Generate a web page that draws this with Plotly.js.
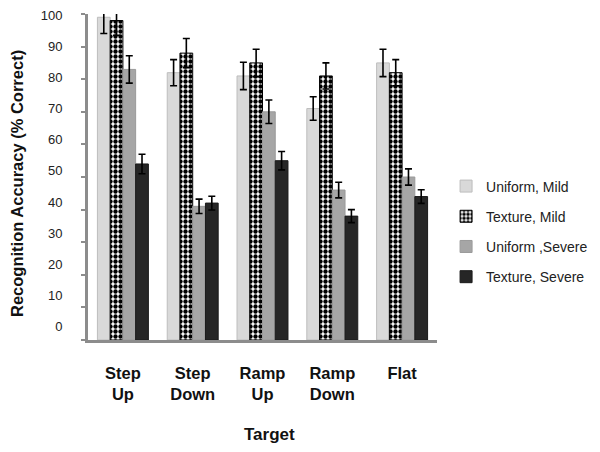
<!DOCTYPE html>
<html>
<head>
<meta charset="utf-8">
<script src="https://cdn.plot.ly/plotly-3.0.1.min.js"></script>
<style>
html,body{margin:0;padding:0;background:#fff;}
#chart{width:600px;height:452px;}
</style>
</head>
<body>
<div id="chart"></div>
<script>
// ---- data ----
var categories = ['Step<br>Up', 'Step<br>Down', 'Ramp<br>Up', 'Ramp<br>Down', 'Flat'];
var seriesNames = ['Uniform, Mild', 'Texture, Mild', 'Uniform ,Severe', 'Texture, Severe'];
var uniformMild = [99, 82, 81, 71, 85];
var uniformMildErr = [5, 4, 4.2, 3.6, 4.2];
var textureMild = [98, 88, 85, 81, 82];
var textureMildErr = [4.5, 4.5, 4.2, 4, 4];
var uniformSevere = [83, 41, 70, 46, 50];
var uniformSevereErr = [4.2, 2.2, 3.6, 2.4, 2.5];
var textureSevere = [54, 42, 55, 38, 44];
var textureSevereErr = [3, 2.1, 2.8, 2, 2.1];
var yTickVals = [0, 10, 20, 30, 40, 50, 60, 70, 80, 90, 100];

var FONT = 'Liberation Sans, Arial, sans-serif';

function errBar(arr) {
  return {type: 'data', array: arr, visible: true, color: '#000', thickness: 1.6, width: 3.5};
}

var traces = [
  {type: 'bar', name: seriesNames[0], x: categories, y: uniformMild, error_y: errBar(uniformMildErr),
   legendgroup: 'a',
   marker: {color: '#d9d9d9', line: {color: '#bdbdbd', width: 1}}},
  {type: 'bar', name: seriesNames[1], x: categories, y: textureMild, error_y: errBar(textureMildErr),
   legendgroup: 'b',
   marker: {color: '#ffffff', line: {color: '#000', width: 1},
            pattern: {shape: '.', fgcolor: '#000', bgcolor: '#fff', size: 5, solidity: 0.6, fillmode: 'replace'}}},
  {type: 'bar', name: seriesNames[2], x: categories, y: uniformSevere, error_y: errBar(uniformSevereErr),
   legendgroup: 'c',
   marker: {color: '#a6a6a6', line: {color: '#9a9a9a', width: 1}}},
  {type: 'bar', name: seriesNames[3], x: categories, y: textureSevere, error_y: errBar(textureSevereErr),
   legendgroup: 'd',
   marker: {color: '#262626', line: {color: '#1a1a1a', width: 1}}},
  // empty helper trace for the separate label-only axis subplot
  {type: 'scatter', mode: 'markers', x: [], y: [], xaxis: 'x2', yaxis: 'y2', showlegend: false, hoverinfo: 'skip'}
];

var layout = {
  width: 600, height: 452,
  margin: {l: 88, r: 163, t: 14, b: 112, pad: 0, autoexpand: false},
  paper_bgcolor: '#fff', plot_bgcolor: 'rgba(0,0,0,0)',
  font: {family: FONT, color: '#222'},
  barmode: 'group', bargap: 0.27, bargroupgap: 0,
  showlegend: true,
  legend: {x: 1.026, xanchor: 'left', y: 0.52, yanchor: 'top',
           font: {family: FONT, size: 14, color: '#222'},
           tracegroupgap: 9, bgcolor: 'rgba(0,0,0,0)'},
  xaxis: {type: 'category', domain: [0, 1], showline: true, linecolor: '#8c8c8c', linewidth: 3,
          ticks: '', showgrid: false, zeroline: false, automargin: false,
          tickfont: {family: FONT, size: 16.5, color: '#111', weight: 'bold'},
          ticklabelstandoff: 16},
  yaxis: {range: [0, 100], tickvals: yTickVals, showticklabels: false,
          ticks: 'outside', ticklen: 4, tickwidth: 2, tickcolor: '#8c8c8c',
          showline: true, linecolor: '#8c8c8c', linewidth: 3, automargin: false,
          showgrid: false, zeroline: false},
  // label-only axis: the source's tick labels sit on a slightly compressed scale
  xaxis2: {domain: [0, 0.01], anchor: 'y2', visible: false, range: [0, 1], automargin: false},
  yaxis2: {domain: [0, 1], anchor: 'x2', range: [-4.27, 100.32], tickvals: yTickVals,
           ticks: 'outside', ticklen: 22, tickcolor: 'rgba(0,0,0,0)',
           showline: false, showgrid: false, zeroline: false, automargin: false,
           tickfont: {family: FONT, size: 13, color: '#222'}},
  annotations: [
    {text: '<b>Recognition Accuracy (% Correct)</b>', textangle: -90, showarrow: false,
     xref: 'paper', yref: 'paper', x: -0.205, y: 0.48, xanchor: 'center', yanchor: 'middle',
     font: {family: FONT, size: 16.5, color: '#111'}},
    {text: '<b>Target</b>', showarrow: false, xref: 'paper', yref: 'paper',
     x: 0.52, y: -0.291, xanchor: 'center', yanchor: 'middle',
     font: {family: FONT, size: 17, color: '#111'}}
  ]
};

Plotly.newPlot('chart', traces, layout, {displayModeBar: false, staticPlot: true});
</script>
</body>
</html>
